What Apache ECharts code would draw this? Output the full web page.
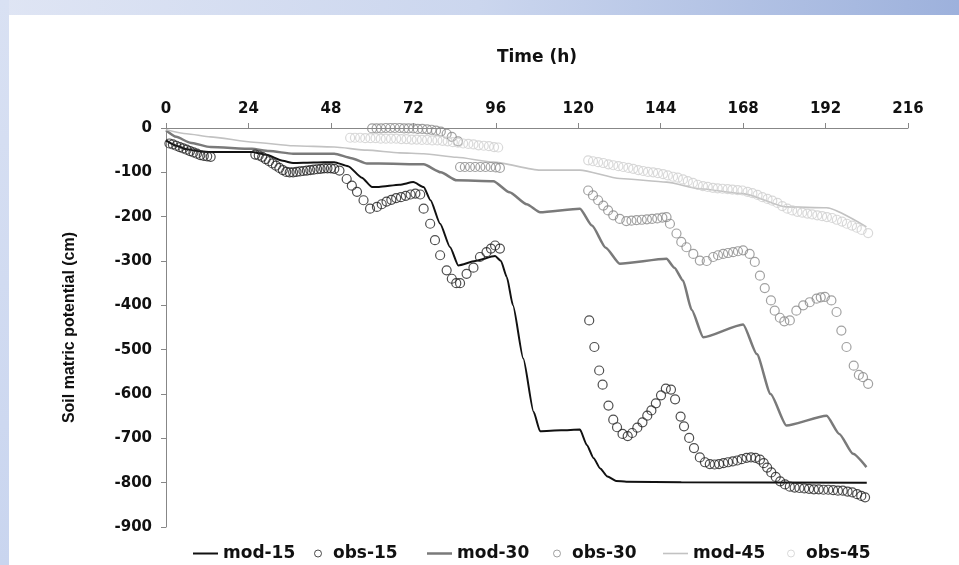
<!DOCTYPE html>
<html>
<head>
<meta charset="utf-8">
<script src="https://cdn.jsdelivr.net/npm/echarts@6/dist/echarts.min.js"></script>
<style>
html,body{margin:0;padding:0;background:#fff;}
#chart{width:959px;height:565px;}
</style>
</head>
<body>
<div id="chart"></div>
<script>
// ---- data (hours, soil matric potential cm) ----
const xTicks = [0, 24, 48, 72, 96, 120, 144, 168, 192, 216];
const seriesNames = ['mod-15', 'obs-15', 'mod-30', 'obs-30', 'mod-45', 'obs-45'];

const mod15 = [[0,-28],[3,-40],[6,-48],[10,-53],[13,-54],[25,-54],[29,-60],[34,-74],[37,-79],[43,-78],[49,-77],[53,-86],[57,-112],[60,-133],[62,-133],[68,-128],[72,-122],[75,-133],[77,-163],[79.8,-216],[82.7,-269],[85.1,-310],[90,-300],[95.8,-289],[97.5,-300],[99.2,-336],[101,-400],[104,-520],[107,-640],[108.9,-684],[115,-682],[120.5,-680],[122.5,-715],[124.5,-745],[126.4,-768],[128.5,-786],[131,-796],[134,-798],[150,-799],[204,-800]];

const mod30 = [[0,-5],[3,-20],[7,-33],[13,-43],[25,-47],[30,-52],[37,-58],[49,-58],[54,-68],[58.5,-80],[62,-80],[75,-82],[80,-100],[84.6,-118],[95.3,-120],[100,-145],[105,-172],[108.9,-190],[120.5,-182],[124,-220],[128,-270],[132.1,-306],[145.7,-295],[148,-315],[150.5,-344],[153,-410],[156.4,-472],[168,-443],[172,-510],[176,-600],[180.6,-671],[192.3,-649],[196,-690],[200,-735],[203.9,-765]];

const mod45 = [[0,-4],[6,-13],[12.9,-20],[25.5,-32],[37,-40],[49,-43],[58.5,-50],[68,-56],[75,-58],[84.6,-66],[95.3,-77],[108.9,-95],[120.5,-95],[132.1,-114],[145.7,-122],[155.4,-137],[168,-148],[180.6,-178],[192.3,-180],[203.9,-223]];

const obs15 = [[1,-35],[2,-37],[3,-40],[4,-43],[5,-46],[6,-49],[7,-52],[8,-55],[9,-58],[10,-61],[11,-63],[12,-64],[13,-65],
[26,-60],[27,-62],[28,-65],[29,-70],[30,-75],[31,-80],[32,-85],[33,-90],[34,-95],[35,-99],[36,-100],[37,-100],[38,-99],[39,-98],[40,-97],[41,-96],[42,-95],[43,-94],[44,-93],[45,-92],[46,-91],[47,-91],[48,-91],[49,-92],[50.5,-96],[52.6,-115],[54.1,-130],[55.6,-144],[57.5,-163],[59.4,-182],[61.4,-178],[62.8,-172],[64.2,-166],[65.6,-162],[67,-158],[68.4,-156],[69.8,-153],[71.2,-150],[72.6,-148],[74,-150],[75,-182],[76.9,-216],[78.3,-253],[79.8,-287],[81.7,-321],[83.2,-340],[84.5,-350],[85.6,-350],[87.5,-329],[89.5,-315],[91.4,-291],[93.3,-280],[94.6,-272],[95.8,-265],[97.2,-272],
[123.2,-434],[124.7,-494],[126.1,-547],[127.1,-579],[128.8,-626],[130.2,-658],[131.3,-675],[132.9,-690],[134.4,-695],[135.7,-688],[137.2,-676],[138.7,-664],[140.1,-649],[141.3,-637],[142.6,-621],[144.1,-603],[145.5,-588],[147,-590],[148.2,-612],[149.8,-651],[150.8,-673],[152.3,-699],[153.7,-722],[155.4,-743],[156.9,-754],[158.3,-758],[159.7,-759],[161,-758],[162.3,-756],[163.6,-754],[165,-752],[166.3,-750],[167.6,-747],[169,-744],[170.3,-743],[171.6,-744],[172.9,-748],[174,-756],[175,-766],[176.2,-777],[177.5,-787],[178.8,-797],[180.2,-804],[181.6,-809],[183,-811],[184.4,-812],[185.8,-813],[187.2,-814],[188.6,-815],[190,-815],[191.4,-816],[192.8,-816],[194.2,-817],[195.6,-818],[197,-818],[198.4,-820],[199.8,-822],[201.2,-826],[202.4,-830],[203.5,-833]];

const obs30 = [[60,-1],[61.3,-1],[62.6,-1],[64,0],[65.3,0],[66.6,0],[68,0],[69.3,-1],[70.6,-1],[72,-1],[73.3,-2],[74.6,-2],[76,-3],[77.3,-4],[78.6,-6],[80,-8],[81.7,-13],[83.2,-20],[85,-30],
[85.6,-88],[87,-88],[88.5,-88],[90,-88],[91.5,-88],[93,-88],[94.5,-88],[96,-89],[97.2,-90],
[122.9,-141],[124.3,-152],[125.8,-163],[127.3,-175],[128.7,-186],[130.2,-197],[132.1,-205],[134,-210],[135.5,-209],[137,-208],[138.5,-207],[140,-206],[141.5,-205],[143,-204],[144.5,-202],[145.7,-201],[146.7,-216],[148.6,-238],[150,-257],[151.5,-269],[153.5,-284],[155.4,-299],[157.4,-300],[159.3,-291],[160.7,-287],[162.2,-284],[163.6,-282],[165.1,-280],[166.5,-278],[168,-276],[169.9,-284],[171.4,-302],[172.9,-333],[174.3,-361],[176.1,-389],[177.2,-412],[178.7,-428],[180,-436],[181.6,-434],[183.5,-412],[185.5,-400],[187.4,-393],[189.4,-385],[190.6,-382],[191.8,-381],[193.7,-389],[195.2,-415],[196.6,-457],[198.1,-494],[200.2,-536],[201.7,-557],[202.9,-562],[204.4,-577]];

const obs45 = [[53.6,-22],[55,-22],[56.5,-22],[58,-23],[59.5,-23],[61,-23],[62.5,-24],[64,-24],[65.5,-24],[67,-24],[68.5,-25],[70,-25],[71.5,-26],[73,-26],[74.5,-27],[76,-27],[77.5,-28],[79,-28],[80.5,-29],[82,-30],[83.5,-32],[85,-33],[86.5,-35],[88,-36],[89.5,-37],[91,-39],[92.5,-40],[94,-41],[95.5,-43],[96.7,-44],
[122.9,-73],[124.3,-75],[125.8,-77],[127.3,-79],[128.8,-82],[130.2,-84],[131.7,-86],[133.1,-88],[134.6,-90],[136,-92],[137.5,-95],[138.9,-97],[140.3,-99],[141.8,-100],[143.2,-102],[144.7,-104],[146.1,-107],[147.6,-110],[149,-112],[150.5,-116],[151.9,-120],[153.4,-124],[154.8,-128],[156.3,-131],[157.7,-133],[159.2,-135],[160.6,-136],[162,-137],[163.5,-138],[164.9,-139],[166.4,-140],[167.8,-141],[169.3,-144],[170.7,-147],[172.2,-151],[173.6,-156],[175.1,-160],[176.5,-164],[178,-169],[179.4,-176],[180.9,-182],[182.3,-186],[183.8,-189],[185.2,-191],[186.7,-193],[188.1,-195],[189.6,-197],[191,-199],[192.4,-201],[193.9,-203],[195.3,-207],[196.8,-211],[198.2,-216],[199.7,-220],[201.1,-225],[202.5,-230],[204.4,-237]];

// ---- styling ----
const FONT = 'DejaVu Sans';
const axisGray = '#878787';
const c15 = '#111111', c30 = '#7a7a7a', c45 = '#c2c2c2';
const obsC15 = '#222222', obsC30 = '#8a8a8a', obsC45 = '#cfcfcf';

const chart = echarts.init(document.getElementById('chart'), null, {renderer: 'canvas'});

function lineSeries(name, data, color, width) {
  return {name, type: 'line', data, smooth: 0.2, smoothMonotone: 'x', symbol: 'none', showSymbol: false,
    lineStyle: {color, width}, itemStyle: {color}, z: 2};
}
function obsSeries(name, data, color) {
  return {name, type: 'scatter', data, symbol: 'circle', symbolSize: 9,
    itemStyle: {color: 'rgba(255,255,255,0)', borderColor: color, borderWidth: 1.2}, z: 3};
}
const legendText = {fontFamily: FONT, fontWeight: 'bold', fontSize: 17, color: '#111'};
function modLegend(name, left, color, thick) {
  return {data: [{name, icon: 'rect', itemStyle: {color, borderWidth: 0}}], left, top: 545, padding: 0,
    itemWidth: 25, itemHeight: thick, selectedMode: false, textStyle: legendText};
}
function obsLegend(name, left, color) {
  return {data: [{name, icon: 'circle', itemStyle: {color: 'rgba(255,255,255,0)', borderColor: color, borderWidth: 1}}],
    left, top: 545, padding: 0, itemWidth: 20, itemHeight: 7, selectedMode: false, textStyle: legendText};
}

const option = {
  backgroundColor: '#ffffff',
  animation: false,
  graphic: [
    {type: 'rect', left: 0, top: 0, shape: {width: 959, height: 15}, silent: true, z: -10,
      style: {fill: new echarts.graphic.LinearGradient(0, 0, 1, 0, [
        {offset: 0, color: '#dfe5f4'}, {offset: 0.5, color: '#cbd6ee'}, {offset: 1, color: '#9db1dc'}])}},
    {type: 'rect', left: 0, top: 0, shape: {width: 9, height: 565}, silent: true, z: -10,
      style: {fill: new echarts.graphic.LinearGradient(0, 0, 0, 1, [
        {offset: 0, color: '#d9e1f3'}, {offset: 1, color: '#c9d5ef'}])}}
  ],
  grid: {left: 166, right: 51, top: 128, bottom: 38, containLabel: false},
  legend: [
    modLegend('mod-15', 193, c15, 2),
    obsLegend('obs-15', 314, obsC15),
    modLegend('mod-30', 427, c30, 2.5),
    obsLegend('obs-30', 553, obsC30),
    modLegend('mod-45', 663, c45, 1.6),
    obsLegend('obs-45', 787, obsC45)
  ],
  xAxis: {
    type: 'value', position: 'top', min: xTicks[0], max: xTicks[xTicks.length - 1], interval: 24,
    name: 'Time (h)', nameLocation: 'middle', nameGap: 62,
    nameTextStyle: {fontFamily: FONT, fontWeight: 'bold', fontSize: 17, color: '#111'},
    axisLine: {show: true, lineStyle: {color: axisGray, width: 1}},
    axisTick: {show: true, inside: false, length: 5, lineStyle: {color: axisGray}},
    axisLabel: {fontFamily: FONT, fontWeight: 'bold', fontSize: 15, color: '#111', margin: 11},
    splitLine: {show: false}
  },
  yAxis: {
    type: 'value', min: -900, max: 0, interval: 100,
    name: 'Soil matric potential (cm)', nameLocation: 'middle', nameGap: 88,
    nameTextStyle: {fontFamily: 'Liberation Sans', fontWeight: 'bold', fontSize: 16, color: '#111'},
    axisLine: {show: true, onZero: false, lineStyle: {color: axisGray, width: 1}},
    axisTick: {show: true, inside: false, length: 5, lineStyle: {color: axisGray}},
    axisLabel: {fontFamily: FONT, fontWeight: 'bold', fontSize: 15, color: '#111', margin: 14},
    splitLine: {show: false}
  },
  series: [
    lineSeries('mod-15', mod15, c15, 2),
    obsSeries('obs-15', obs15, obsC15),
    lineSeries('mod-30', mod30, c30, 2.5),
    obsSeries('obs-30', obs30, obsC30),
    lineSeries('mod-45', mod45, c45, 1.6),
    obsSeries('obs-45', obs45, obsC45)
  ]
};
chart.setOption(option);
</script>
</body>
</html>
